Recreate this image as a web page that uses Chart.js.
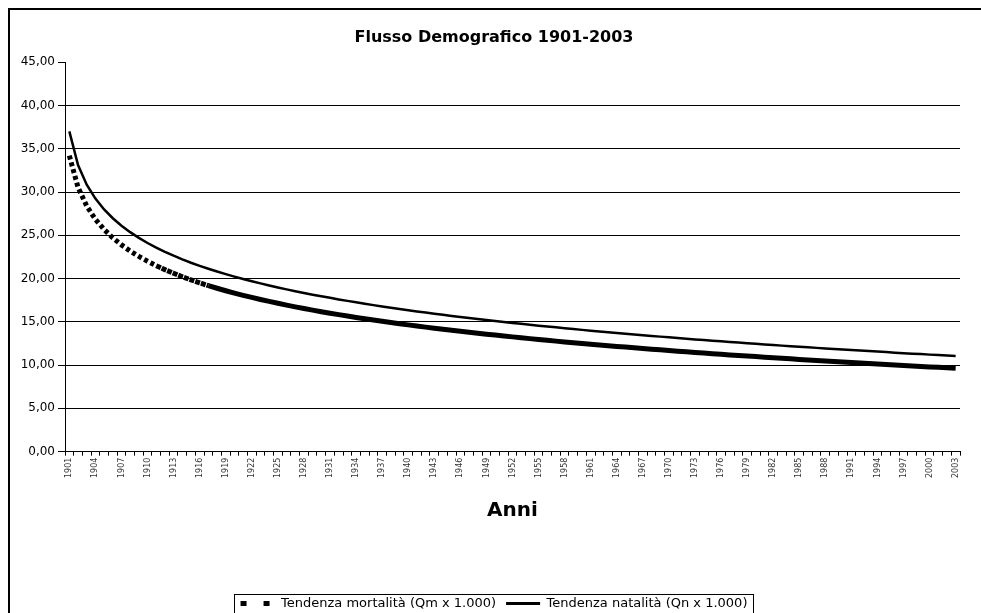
<!DOCTYPE html>
<html>
<head>
<meta charset="utf-8">
<title>Flusso Demografico 1901-2003</title>
<script src="https://cdn.jsdelivr.net/npm/chart.js@4/dist/chart.umd.min.js"></script>
<style>
  html, body { margin: 0; padding: 0; background: #fff; overflow: hidden; }
  canvas { display: block; }
</style>
</head>
<body>
<canvas id="grafico" width="981" height="620" style="width:981px;height:620px"></canvas>
<script>
// Anni (categorie)
const anni = [
  '1901','1902','1903','1904','1905','1906','1907','1908','1909','1910',
  '1911','1912','1913','1914','1915','1916','1917','1918','1919','1920',
  '1921','1922','1923','1924','1925','1926','1927','1928','1929','1930',
  '1931','1932','1933','1934','1935','1936','1937','1938','1939','1940',
  '1941','1942','1943','1944','1945','1946','1947','1948','1949','1950',
  '1951','1952','1953','1954','1955','1956','1957','1958','1959','1960',
  '1961','1962','1963','1964','1965','1966','1967','1968','1969','1970',
  '1971','1972','1973','1974','1975','1976','1977','1978','1979','1980',
  '1981','1982','1983','1984','1985','1986','1987','1988','1989','1990',
  '1991','1992','1993','1994','1995','1996','1997','1998','1999','2000',
  '2001','2002','2003'
];

// Tendenza mortalità (Qm x 1.000)
const mortalita = [
  34.20,30.53,28.38,26.85,25.67,24.70,23.89,23.18,22.56,22.00,
  21.49,21.03,20.61,20.21,19.85,19.51,19.18,18.88,18.59,18.32,
  18.06,17.82,17.58,17.36,17.14,16.93,16.73,16.54,16.35,16.17,
  16.00,15.83,15.67,15.51,15.36,15.21,15.06,14.92,14.78,14.65,
  14.52,14.39,14.27,14.14,14.02,13.91,13.79,13.68,13.57,13.47,
  13.36,13.26,13.16,13.06,12.96,12.87,12.77,12.68,12.59,12.50,
  12.41,12.33,12.24,12.16,12.08,12.00,11.92,11.84,11.76,11.68,
  11.61,11.53,11.46,11.39,11.32,11.25,11.18,11.11,11.04,10.98,
  10.91,10.84,10.78,10.72,10.65,10.59,10.53,10.47,10.41,10.35,
  10.29,10.23,10.18,10.12,10.06,10.01,9.95,9.90,9.85,9.79,
  9.74,9.69,9.64
];

// Tendenza natalità (Qn x 1.000)
const natalita = [
  37.00,33.12,30.85,29.24,27.99,26.97,26.10,25.36,24.70,24.11,
  23.57,23.09,22.64,22.22,21.83,21.47,21.13,20.81,20.51,20.22,
  19.95,19.69,19.44,19.20,18.97,18.75,18.54,18.34,18.14,17.95,
  17.77,17.59,17.42,17.25,17.09,16.93,16.78,16.63,16.48,16.34,
  16.20,16.07,15.94,15.81,15.68,15.56,15.44,15.32,15.21,15.09,
  14.98,14.87,14.77,14.66,14.56,14.46,14.36,14.26,14.17,14.07,
  13.98,13.89,13.80,13.71,13.62,13.54,13.45,13.37,13.29,13.21,
  13.13,13.05,12.97,12.90,12.82,12.75,12.67,12.60,12.53,12.46,
  12.39,12.32,12.25,12.19,12.12,12.06,11.99,11.93,11.86,11.80,
  11.74,11.68,11.62,11.56,11.50,11.44,11.38,11.32,11.27,11.21,
  11.16,11.10,11.05
];

const etichette = ['Tendenza mortalità (Qm x 1.000)', 'Tendenza natalità (Qn x 1.000)'];
const yMin = 0, yMax = 45, yPasso = 5;

const FONT = "'DejaVu Sans', Verdana, sans-serif";

// cornice esterna (bordo sinistro e superiore)
const cornice = {
  id: 'cornice',
  afterDraw(chart) {
    const ctx = chart.ctx;
    ctx.save();
    ctx.strokeStyle = '#000';
    ctx.lineWidth = 2;
    ctx.beginPath();
    ctx.moveTo(9, chart.height + 2);
    ctx.lineTo(9, 9);
    ctx.lineTo(chart.width + 2, 9);
    ctx.stroke();
    ctx.restore();
  }
};

// riquadro attorno alla legenda
const bordoLegenda = {
  id: 'bordoLegenda',
  afterDraw(chart) {
    const boxes = chart.legend && chart.legend.legendHitBoxes;
    if (!boxes || !boxes.length) return;
    const left = Math.min(...boxes.map(b => b.left)) - 7;
    const right = Math.max(...boxes.map(b => b.left + b.width)) + 5;
    const top = boxes[0].top - 3;
    const ctx = chart.ctx;
    ctx.save();
    ctx.strokeStyle = '#000';
    ctx.lineWidth = 1;
    ctx.strokeRect(Math.round(left) + 0.5, Math.round(top) + 0.5, Math.round(right - left), 40);
    ctx.restore();
  }
};

const ctx = document.getElementById('grafico').getContext('2d');
new Chart(ctx, {
  type: 'line',
  data: {
    labels: anni,
    datasets: [
      {
        label: etichette[0],
        data: mortalita,
        borderColor: '#000',
        borderWidth: 5,
        segment: {
          // tratto puntinato dove la curva è ripida, poi fascia quasi continua
          borderDash: s => s.p0DataIndex < 10 ? [4, 3] : (s.p0DataIndex < 16 ? [5, 1] : [])
        },
        pointRadius: 0,
        tension: 0,
        fill: false
      },
      {
        label: etichette[1],
        data: natalita,
        borderColor: '#000',
        borderWidth: 2.5,
        pointRadius: 0,
        tension: 0,
        fill: false
      }
    ]
  },
  options: {
    responsive: false,
    animation: false,
    devicePixelRatio: 1,
    layout: { padding: { left: 7, right: 0, top: 0, bottom: 0 } },
    plugins: {
      title: {
        display: true,
        text: 'Flusso Demografico 1901-2003',
        color: '#000',
        font: { family: FONT, size: 16, weight: 'bold' },
        padding: { top: 28, bottom: 15 }
      },
      legend: {
        position: 'bottom',
        labels: {
          color: '#000',
          font: { family: FONT, size: 13 },
          usePointStyle: true,
          pointStyleWidth: 34,
          boxHeight: 13,
          padding: 10,
          generateLabels: chart => [
            { text: etichette[0], datasetIndex: 0, pointStyle: 'line', strokeStyle: '#000', fillStyle: '#000', lineWidth: 5, lineDash: [6, 17] },
            { text: etichette[1], datasetIndex: 1, pointStyle: 'line', strokeStyle: '#000', fillStyle: '#000', lineWidth: 3, lineDash: [] }
          ]
        }
      },
      tooltip: { enabled: false }
    },
    scales: {
      x: {
        type: 'category',
        offset: true,
        grid: {
          display: true,
          offset: true,
          drawOnChartArea: false,
          drawTicks: true,
          tickLength: 4,
          tickColor: '#000'
        },
        border: { display: true, color: '#000', width: 1 },
        ticks: {
          autoSkip: false,
          maxRotation: 90,
          minRotation: 90,
          padding: 2,
          color: '#333',
          font: { family: FONT, size: 8 },
          callback: function (val, i) { return i % 3 === 0 ? anni[i] : ''; }
        },
        title: {
          display: true,
          text: 'Anni',
          color: '#000',
          font: { family: FONT, size: 20, weight: 'bold' },
          padding: { top: 19, bottom: 64 }
        }
      },
      y: {
        min: yMin,
        max: yMax,
        afterFit: s => { s.width = 58; },
        grid: {
          color: c => (c.tick && c.tick.value === yMax) ? 'rgba(0,0,0,0)' : '#000',
          tickColor: '#000',
          tickLength: 7,
          lineWidth: 1
        },
        border: { display: true, color: '#000', width: 1 },
        ticks: {
          stepSize: yPasso,
          padding: 3,
          color: '#000',
          font: { family: FONT, size: 12 },
          callback: v => v.toFixed(2).replace('.', ',')
        }
      },
      // asse vuoto a destra: solo margine
      margine: {
        position: 'right',
        display: true,
        grid: { display: false },
        border: { display: false },
        ticks: { display: false },
        afterFit: s => { s.width = 21; }
      }
    }
  },
  plugins: [cornice, bordoLegenda]
});
</script>
</body>
</html>
